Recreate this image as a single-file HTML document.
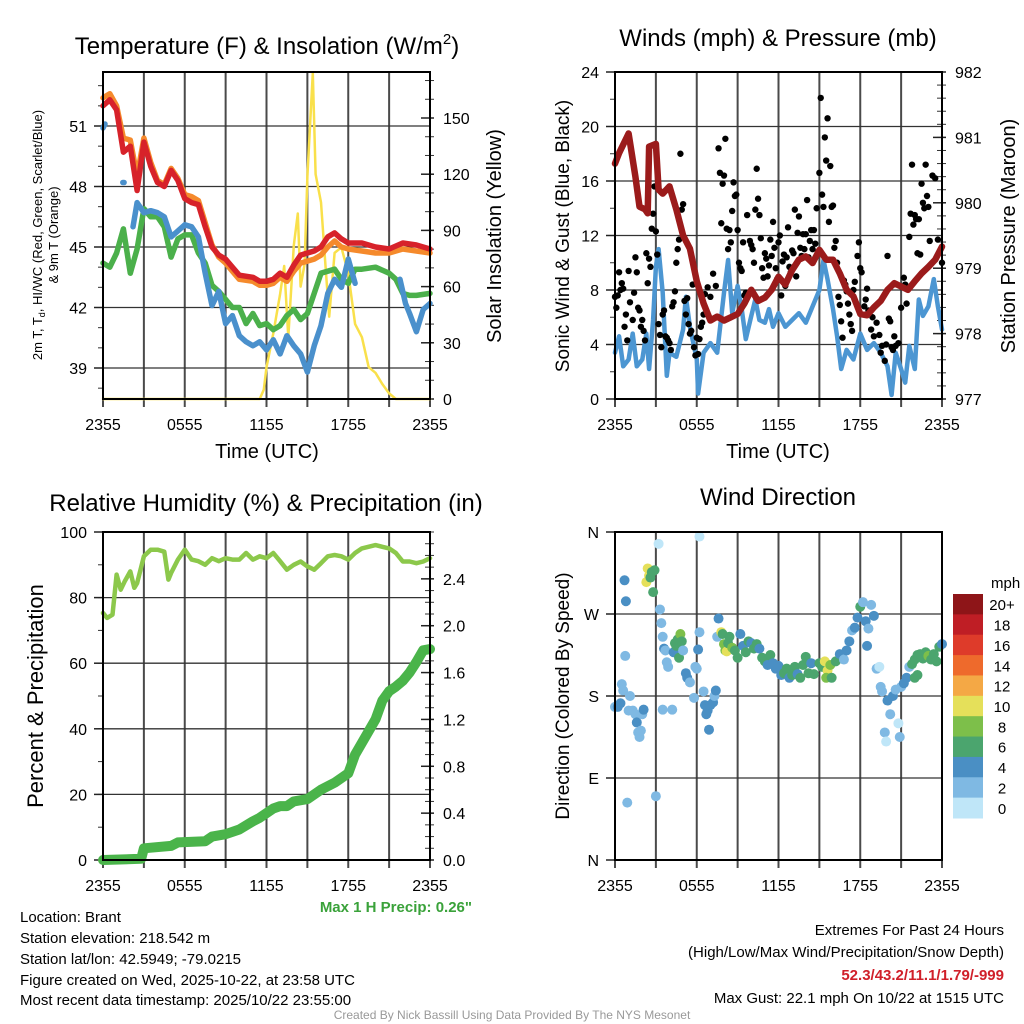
<!DOCTYPE html>
<html><head><meta charset="utf-8"><title>Mesonet Brant</title>
<style>
html,body{margin:0;padding:0;background:#fff;}
svg{display:block;font-family:"Liberation Sans",Arial,sans-serif;}
</style></head>
<body>
<svg id="fig" width="1024" height="1024" viewBox="0 0 1024 1024" xmlns="http://www.w3.org/2000/svg">
<text x="267" y="54" font-size="24" text-anchor="middle">Temperature (F) &amp; Insolation (W/m<tspan font-size="15" dy="-10">2</tspan><tspan dy="10">)</tspan></text>
<text x="778" y="46" font-size="24" text-anchor="middle">Winds (mph) &amp; Pressure (mb)</text>
<text x="266" y="511" font-size="24" text-anchor="middle">Relative Humidity (%) &amp; Precipitation (in)</text>
<text x="778" y="505" font-size="24" text-anchor="middle">Wind Direction</text>

<text transform="translate(42,235) rotate(-90)" font-size="13" text-anchor="middle">2m T, T<tspan font-size="9" dy="3">d</tspan><tspan dy="-3">, HI/WC (Red, Green, Scarlet/Blue)</tspan></text>
<text transform="translate(58,235) rotate(-90)" font-size="13" text-anchor="middle">&amp; 9m T (Orange)</text>
<text transform="translate(501,236) rotate(-90)" font-size="20" text-anchor="middle">Solar Insolation (Yellow)</text>
<text transform="translate(569,236) rotate(-90)" font-size="19" text-anchor="middle">Sonic Wind &amp; Gust (Blue, Black)</text>
<text transform="translate(1015,236) rotate(-90)" font-size="20" text-anchor="middle">Station Pressure (Maroon)</text>
<text transform="translate(43,696) rotate(-90)" font-size="22" text-anchor="middle">Percent &amp; Precipitation</text>
<text transform="translate(569,696) rotate(-90)" font-size="19" text-anchor="middle">Direction (Colored By Speed)</text>

<text x="267" y="458" font-size="20" text-anchor="middle">Time (UTC)</text>
<text x="778" y="458" font-size="20" text-anchor="middle">Time (UTC)</text>

<text x="472" y="912" font-size="15" font-weight="bold" fill="#3aa23a" text-anchor="end">Max 1 H Precip: 0.26"</text>

<g font-size="15">
<text x="20" y="922">Location: Brant</text>
<text x="20" y="943">Station elevation: 218.542 m</text>
<text x="20" y="964">Station lat/lon: 42.5949; -79.0215</text>
<text x="20" y="985">Figure created on Wed, 2025-10-22, at 23:58 UTC</text>
<text x="20" y="1005">Most recent data timestamp: 2025/10/22 23:55:00</text>
</g>
<g font-size="15" text-anchor="end">
<text x="1004" y="935">Extremes For Past 24 Hours</text>
<text x="1004" y="957">(High/Low/Max Wind/Precipitation/Snow Depth)</text>
<text x="1004" y="980" fill="#d0202a" font-weight="bold">52.3/43.2/11.1/1.79/-999</text>
<text x="1004" y="1003">Max Gust: 22.1 mph On 10/22 at 1515 UTC</text>
</g>
<text x="512" y="1019" font-size="12" fill="#999" text-anchor="middle">Created By Nick Bassill Using Data Provided By The NYS Mesonet</text>
</svg>
<script>
// ---------- data ----------
const xTickLabels = ["2355","0555","1155","1755","2355"];
const tempHours = [0,0.5,1,1.5,2,2.5,3,3.5,4,4.5,5,5.5,6,6.5,7,7.5,8,8.5,9,9.5,10,11,11.5,12,12.5,13,13.5,14,14.5,15,15.5,16,16.5,17,17.5,18,19,20,21,22,23,24];
const temp2m = [52.0,52.3,51.8,49.7,50.0,47.8,50.2,49.0,48.2,48.0,48.8,48.3,47.4,47.2,47.1,46.0,45.0,44.6,44.4,44.0,43.6,43.5,43.3,43.3,43.4,43.7,43.5,44.1,44.6,44.7,44.8,45.0,45.5,45.7,45.4,45.2,45.2,45.0,44.9,45.2,45.1,44.9];
const temp9m = [52.4,52.6,52.0,50.4,50.3,48.5,50.4,49.2,48.3,48.1,48.9,48.4,47.6,47.5,47.3,46.2,45.1,44.5,44.2,43.8,43.4,43.3,43.1,43.1,43.2,43.5,43.3,43.8,44.2,44.3,44.4,44.6,45.0,45.3,45.0,44.9,44.8,44.7,44.7,44.9,44.8,44.7];
const dewHours = [0,0.5,1,1.5,2,2.5,3,3.5,4,4.5,5,5.5,6,6.5,7,7.5,8,8.5,9,9.5,10,10.5,11,11.5,12,12.5,13,13.5,14,14.5,15,15.5,16,16.5,17,17.5,18,18.5,19,20,21,21.5,22,22.5,23,24];
const dewPoint = [44.2,44.0,44.7,45.9,43.7,44.9,46.9,46.5,46.5,46.0,44.5,45.4,45.6,45.6,44.7,44.2,43.1,42.8,42.4,42.0,42.0,41.2,41.7,41.1,41.2,40.9,41.1,41.6,41.9,41.4,41.7,42.7,43.7,43.8,43.9,43.4,43.2,43.9,43.9,44.0,43.7,43.4,42.7,42.6,42.6,42.7];
const hiwcHours = [0,0.15,null,1.45,1.55,null,2.2,2.5,3,3.5,4,4.5,5,5.5,6,6.5,7,7.5,8,8.5,9,9.5,10,10.5,11,11.5,12,12.5,13,13.5,14,14.5,15,15.5,16,16.5,17,17.5,18,18.5,null,21.8,22.2,22.5,23,23.5,24];
const hiwc = [50.9,51.1,null,48.2,48.2,null,46.0,47.2,46.7,46.8,46.7,46.5,45.5,45.8,46.1,46.0,45.5,43.7,42.1,42.8,41.2,41.6,40.6,40.3,40.1,40.3,39.9,40.4,39.7,40.6,40.1,39.7,38.8,40.1,41.1,42.7,43.4,43.0,44.4,43.2,null,43.4,42.2,41.7,40.8,41.9,42.2];
const solHours = [0,11.5,11.8,12,12.5,13,13.3,13.6,14,14.3,14.5,14.8,15,15.4,15.6,16,16.3,16.6,17,17.5,18,18.5,19,19.5,20,20.5,21,21.5,24];
const solar = [0,0,5,17,35,56,71,33,82,99,60,72,119,174,120,105,74,44,78,81,67,40,33,17,14,8,3,0,0];

const presHours = [0,0.3,1,1.5,1.8,2.2,2.4,2.5,3,3.2,3.5,4,4.5,5,5.5,6,6.5,7,7.5,8,8.5,9,9.5,10,10.5,11,11.5,12,12.5,13,13.5,14,14.5,15,15.5,16,16.5,17,17.5,18,18.5,19,19.5,20,20.5,21,21.5,22,22.5,23,23.5,24];
const pressure = [980.6,980.76,981.06,980.4,979.94,979.9,979.84,980.86,980.9,980.2,980.14,980.25,979.9,979.5,979.3,978.8,978.46,978.2,978.26,978.2,978.25,978.3,978.46,978.67,978.5,978.55,978.67,978.87,978.75,978.97,979.13,979.18,979.08,979.28,979.13,979.13,978.92,978.67,978.57,978.3,978.28,978.4,978.5,978.67,978.77,978.72,978.67,978.8,978.92,979.02,979.13,979.33];
const windHours = [0,0.3,0.6,1,1.3,1.6,2,2.3,2.5,2.8,3,3.2,3.5,3.8,4,4.5,5,5.2,5.5,6,6.1,6.5,7,7.5,8,8.3,8.6,9,9.3,9.6,10,10.3,10.6,11,11.3,11.6,12,12.5,13,13.5,14,14.5,15,15.3,15.6,16,16.3,16.6,17,17.5,18,18.5,19,19.5,20,20.3,20.6,21,21.3,21.6,22,22.3,22.6,23,23.4,23.7,24];
const windSpeed = [3.4,4.6,2.4,2.9,4.8,2.4,2.9,4.8,2.2,5.8,9.7,11.0,7.8,1.7,3.4,3.1,5.1,7.5,5.3,2.9,0.4,3.4,4.1,3.4,7.8,10.2,6.3,8.3,6.6,4.4,6.1,7.3,5.8,5.6,6.6,5.3,6.3,5.3,5.8,6.3,5.6,6.8,8.0,10.2,8.8,6.6,4.6,2.2,3.6,2.9,4.8,3.6,4.1,3.4,2.4,0.3,3.4,2.2,1.2,3.9,2.2,7.3,6.1,6.8,8.8,6.8,5.1];
const gustHours = [0,0.1,0.2,0.3,0.4,0.5,0.6,0.7,0.8,0.9,1,1.1,1.3,1.4,1.5,1.6,1.7,1.8,1.9,2,2.1,2.2,2.3,2.4,2.5,2.6,2.7,2.8,2.9,3,3.1,3.2,3.3,3.4,3.5,3.6,3.7,3.8,3.9,4,4.1,4.2,4.3,4.4,4.5,4.6,4.7,4.8,4.9,5,5.1,5.2,5.3,5.4,5.5,5.6,5.7,5.8,5.9,6,6.1,6.2,6.3,6.4,6.5,6.6,6.8,7,7.2,7.4,7.6,7.7,7.8,7.9,8,8.1,8.2,8.3,8.4,8.5,8.6,8.7,8.8,8.9,9,9.1,9.2,9.3,9.4,9.5,9.6,9.7,9.9,10,10.1,10.2,10.3,10.4,10.5,10.6,10.7,10.8,10.9,11,11.1,11.2,11.3,11.4,11.5,11.6,11.7,11.8,11.9,12,12.1,12.2,12.3,12.4,12.5,12.6,12.7,12.8,12.9,13,13.1,13.2,13.3,13.4,13.5,13.6,13.7,13.8,13.9,14,14.1,14.2,14.3,14.4,14.5,14.6,14.7,14.8,14.9,15,15.1,15.2,15.3,15.4,15.5,15.6,15.7,15.8,15.9,16,16.1,16.2,16.3,16.4,16.5,16.6,16.7,16.8,16.9,17,17.1,17.2,17.3,17.4,17.5,17.6,17.8,17.9,18,18.1,18.3,18.4,18.5,18.6,18.8,18.9,19,19.2,19.4,19.5,19.6,19.8,19.9,20,20.1,20.2,20.3,20.4,20.5,20.6,20.8,21,21.2,21.3,21.4,21.6,21.7,21.8,21.9,22,22.1,22.2,22.3,22.4,22.5,22.6,22.7,22.8,22.9,23,23.1,23.3,23.5,23.7,24];
const gustSpeed = [7.5,6.7,7.6,9.3,8.0,8.5,8.1,5.3,6.2,4.3,9.4,7.1,5.8,7.8,10.4,9.3,6.7,6.5,5.3,5.8,5.0,4.3,10.7,8.5,10.3,9.7,12.5,13.6,15.6,12.3,10.6,5.5,4.7,3.8,6.2,6.5,4.6,4.5,4.3,4.1,3.6,6.8,7.1,7.9,10.0,11.0,11.7,18.0,13.9,14.3,7.2,6.2,7.4,5.5,4.8,5.0,8.4,3.8,3.2,4.5,3.3,4.4,5.3,5.6,6.2,7.7,8.2,7.5,9.2,8.3,18.4,16.6,12.9,15.8,16.4,19.1,12.5,11.0,12.4,11.5,13.8,15.9,14.9,15.0,12.4,10.0,9.6,9.4,11.5,7.6,7.8,13.5,11.6,11.3,11.0,10.0,13.9,16.9,14.7,13.5,11.8,9.6,8.9,10.7,10.3,9.0,9.8,11.7,10.5,13.0,11.1,9.6,8.8,11.5,12.0,7.6,10.1,10.6,8.3,10.4,12.6,9.7,9.3,10.9,10.7,13.9,9.0,12.2,13.4,11.1,10.5,12.1,11.0,12.1,14.6,10.4,11.6,12.4,11.0,12.4,11.4,14.0,10.8,16.6,22.1,15.0,14.1,19.2,17.5,20.6,13.0,17.1,14.1,14.2,11.1,11.6,10.0,7.5,6.9,5.7,4.5,8.7,8.4,7.9,7.0,6.2,5.5,5.0,8.0,8.6,10.5,11.5,9.6,9.3,6.8,7.3,8.1,6.5,5.1,6.0,4.6,5.6,4.7,3.4,3.9,2.8,4.0,10.5,5.9,5.7,3.8,3.6,4.6,3.9,4.1,6.7,8.9,8.4,7.0,11.9,13.6,17.2,12.8,13.5,13.2,10.7,13.2,10.6,15.8,14.4,14.0,17.2,14.9,14.1,11.6,16.4,16.2,11.7,10.0];

const rhHours = [0,0.3,0.7,1,1.3,1.6,2,2.3,2.5,3,3.5,4,4.5,4.8,5,5.5,6,6.5,7,7.5,8,8.5,9,9.5,10,10.5,11,11.5,12,12.5,13,13.5,14,14.5,15,15.5,16,16.5,17,17.5,18,18.5,19,20,20.5,21,21.5,22,22.5,23,23.5,24];
const rh = [75.3,73.8,74.8,87,82.4,85,88,83,84.4,92.6,94.6,94.6,94,85.5,87.5,91.6,94.6,91.6,91.1,90,92,91.1,92,91.6,91.6,93.6,91.6,92.6,92,93.6,91.1,88.5,90,91,89.5,88.5,90.5,92.6,93,92.6,91.6,93.6,95,96,95.5,95,93.6,91,91,90.5,91,92];
const precipHours = [0,2.8,3,5,5.5,7.5,8,9,10,11,11.5,12,12.5,13,13.5,14,15,16,17,18,18.5,19,19.5,20,20.5,21,21.5,22,22.5,23,23.5,24];
const precip = [0,0.01,0.1,0.12,0.15,0.16,0.2,0.22,0.26,0.33,0.36,0.4,0.44,0.46,0.46,0.5,0.52,0.6,0.66,0.74,0.9,1.0,1.1,1.2,1.36,1.44,1.48,1.53,1.6,1.69,1.79,1.8];

const dirHours = [0,0.2,0.4,0.5,0.6,0.7,0.75,0.8,0.9,1.0,1.1,1.3,1.5,1.6,1.7,1.8,1.9,2.0,2.1,2.3,2.4,2.5,2.6,2.7,2.8,2.9,3.2,3.0,3.3,3.4,3.5,3.6,3.7,3.8,3.9,3.5,4.2,4.3,4.4,4.5,4.6,4.8,4.9,4.7,5.0,5.2,5.3,5.5,5.8,5.9,6.0,6.1,6.2,6.2,6.5,6.6,6.7,6.8,6.9,7.0,7.2,7.3,7.4,7.5,7.6,7.8,7.9,8.0,8.1,8.2,8.3,8.4,8.6,8.8,9.0,9.2,9.4,9.6,9.8,10.0,10.2,10.4,10.6,10.8,11.0,11.2,11.4,11.6,11.8,12.0,12.2,12.4,12.6,12.8,13.0,13.2,13.4,13.6,13.8,14.0,14.2,14.4,14.6,15.0,15.2,15.4,15.6,15.8,15.5,15.9,16.2,16.5,16.8,17.0,17.2,17.4,17.6,17.8,18.0,18.2,18.4,18.6,18.8,19.0,18.5,19.2,19.4,19.5,19.6,19.8,19.9,20.0,20.2,20.4,20.6,20.8,20.9,21.0,21.2,21.4,21.6,21.8,22.0,22.2,22.4,22.6,22.8,23.0,23.2,23.4,23.6,23.8,24.0,22.0,22.2];
const dirDeg = [168,168,172,193,186,307,224,284,63,164,180,164,160,151,140,135,142,160,165,305,320,312,310,316,294,318,347,70,275,260,245,232,230,217,212,165,165,228,238,235,242,248,240,222,230,205,200,195,178,212,210,231,250,355,185,170,160,164,143,170,173,180,186,245,265,250,248,237,230,229,238,245,233,230,222,248,235,228,240,238,232,237,232,222,218,214,225,216,210,213,203,205,210,200,203,212,204,200,214,223,205,216,204,216,212,218,208,214,200,200,218,226,220,230,240,252,255,266,278,283,262,254,280,268,235,210,212,190,185,140,130,175,160,180,187,150,135,190,194,200,212,215,220,225,226,221,228,224,220,226,218,234,237,200,203];
const dirSpeed = [3,4,4,2,2,4,2,4,2,2,2,2,3,4,2,2,2,3,4,10,10,10,6,6,6,7,0,2,2,2,2,4,2,2,2,2,2,4,6,6,6,8,6,6,2,4,4,2,2,2,2,4,2,0,2,4,4,4,4,4,4,3,4,2,4,10,6,8,8,10,6,6,8,6,6,4,4,6,6,4,6,6,4,6,6,4,6,4,4,4,4,6,6,4,6,6,4,6,6,6,6,4,6,6,6,10,10,8,8,6,6,4,2,4,4,2,4,4,6,2,4,2,2,4,4,2,0,2,2,2,0,4,2,4,2,1,2,2,4,4,2,6,6,6,6,6,6,8,6,6,6,6,4,6,6];
const cbarLabels = ["20+","18","16","14","12","10","8","6","4","2","0"];
const cbarColors = ["#8e1518","#bf1e25","#de3b2a","#ee6a2c","#f4a845","#e5e05a","#7dbf4a","#4ba56e","#4a8fc4","#7fb9e3","#bfe6f8"];

// ---------- helpers ----------
const NS="http://www.w3.org/2000/svg";
const svg=document.getElementById("fig");
function mk(tag,attrs,parent){const e=document.createElementNS(NS,tag);for(const k in attrs)e.setAttribute(k,attrs[k]);(parent||svg).appendChild(e);return e;}
function lin(d0,d1,r0,r1){return v=>r0+(v-d0)/(d1-d0)*(r1-r0);}

function panel(name,L,R,T,B,leftTicks,leftLab,leftMinor,rightTicks,rightLab,rightMinor,yl,yr,drawHGrid){
  const g=mk("g",{});
  
  
  const x=lin(0,24,L,R);
  for(let h=3;h<24;h+=3){
    const l=mk("line",{x1:x(h),x2:x(h),y1:T,y2:B,stroke:"#4a4a4a","stroke-width":2},g);
    
    
  }
  drawHGrid.forEach(v=>{
    const l=mk("line",{x1:L,x2:R,y1:v,y2:v,stroke:"#333","stroke-width":1.3},g);
    
    
  });
  for(let h=0;h<=24;h+=3){
    const t=mk("line",{x1:x(h),x2:x(h),y1:B,y2:B+8,stroke:"#4a4a4a","stroke-width":2},g);
    
    
  }
  xTickLabels.forEach((s,i)=>{
    const t=mk("text",{x:x(i*6),y:B+31,"font-size":16,"text-anchor":"middle"},g);
    t.textContent=s;
    
    
  });
  leftMinor.forEach(v=>{const t=mk("line",{x1:L-5,x2:L,y1:yl(v),y2:yl(v),stroke:"#333","stroke-width":1},g);
    
    });
  leftTicks.forEach((v,i)=>{
    const t=mk("line",{x1:L-9,x2:L,y1:yl(v),y2:yl(v),stroke:"#222","stroke-width":1.5},g);
    
    
    const s=mk("text",{x:L-16,y:yl(v)+6,"font-size":16,"text-anchor":"end"},g);
    s.textContent=leftLab[i];
    
    
  });
  if(yr){
    rightMinor.forEach(v=>{const t=mk("line",{x1:R-5,x2:R+4,y1:yr(v),y2:yr(v),stroke:"#333","stroke-width":1},g);
      
      });
    rightTicks.forEach((v,i)=>{
      const t=mk("line",{x1:R-9,x2:R+4,y1:yr(v),y2:yr(v),stroke:"#222","stroke-width":1.5},g);
      
      
      const s=mk("text",{x:R+13,y:yr(v)+6,"font-size":16},g);
      s.textContent=rightLab[i];
      
      
    });
  }
  return {g,x};
}
function frame(g,L,R,T,B){
  const r=mk("rect",{x:L,y:T,width:R-L,height:B-T,fill:"none",stroke:"#000","stroke-width":2},g);
  
  
}
function polyline(g,xs,ys,x,y,color,w,name){
  let d="",pen=false;
  for(let i=0;i<xs.length;i++){
    if(xs[i]===null||ys[i]===null){pen=false;continue;}
    d+=(pen?"L":"M")+x(xs[i]).toFixed(1)+","+y(ys[i]).toFixed(1);pen=true;
  }
  const p=mk("path",{d:d,fill:"none",stroke:color,"stroke-width":w,"stroke-linejoin":"round","stroke-linecap":"round"},g);
  
  
}
function range(a,b,s){const r=[];for(let v=a;v<=b+1e-9;v+=s)r.push(+v.toFixed(4));return r;}

// ---------- Panel 1: temperature ----------
(function(){
  const L=103,R=430,T=72,B=399;
  const yl=lin(39,51,368,126), yr=lin(0,150,399,118);
  const lt=[39,42,45,48,51];
  const p=panel("temperature-panel",L,R,T,B,lt,lt.map(String),range(38,53,1),[0,30,60,90,120,150],["0","30","60","90","120","150"],range(0,175,10),yl,yr,lt.map(yl));
  polyline(p.g,solHours,solar,p.x,yr,"#f9e04b",2.5,"solar-insolation-line");
  polyline(p.g,dewHours,dewPoint,p.x,yl,"#4bb04b",5.5,"dewpoint-line");
  polyline(p.g,hiwcHours,hiwc,p.x,yl,"#4a90cc",5.5,"heat-index-windchill-line");
  polyline(p.g,tempHours,temp9m,p.x,yl,"#f58a2c",5.5,"temp-9m-line");
  polyline(p.g,tempHours,temp2m,p.x,yl,"#d7222a",5.5,"temp-2m-line");
  frame(p.g,L,R,T,B);
})();

// ---------- Panel 2: wind & pressure ----------
(function(){
  const L=615,R=942,T=72,B=399;
  const yl=lin(0,24,399,72), yr=lin(977,982,399,72);
  const lt=[0,4,8,12,16,20,24];
  const p=panel("wind-pressure-panel",L,R,T,B,lt,lt.map(String),range(0,24,2),[977,978,979,980,981,982],["977","978","979","980","981","982"],range(977,982,0.2),yl,yr,lt.map(yl));
  polyline(p.g,windHours,windSpeed,p.x,yl,"#4c96d2",4.5,"sonic-wind-line");
  gustHours.forEach((h,i)=>{
    const c=mk("circle",{cx:p.x(h),cy:yl(gustSpeed[i]),r:3.2,fill:"#000"},p.g);
    
    
  });
  polyline(p.g,presHours,pressure,p.x,yr,"#9b1b1b",6.5,"station-pressure-line");
  frame(p.g,L,R,T,B);
})();

// ---------- Panel 3: RH & precip ----------
(function(){
  const L=103,R=430,T=532,B=860;
  const yl=lin(0,100,860,532), yr=lin(0,2.8,860,532);
  const lt=[0,20,40,60,80,100];
  const p=panel("rh-precip-panel",L,R,T,B,lt,lt.map(String),range(0,100,10),[0,0.4,0.8,1.2,1.6,2.0,2.4],["0.0","0.4","0.8","1.2","1.6","2.0","2.4"],range(0,2.8,0.1),yl,yr,lt.map(yl));
  polyline(p.g,rhHours,rh,p.x,yl,"#8cc84b",4.5,"relative-humidity-line");
  polyline(p.g,precipHours,precip,p.x,yr,"#4ab44a",10,"precipitation-line");
  frame(p.g,L,R,T,B);
})();

// ---------- Panel 4: wind direction ----------
(function(){
  const L=615,R=942,T=532,B=860;
  const yl=lin(0,360,860,532);
  const lt=[0,90,180,270,360];
  const p=panel("wind-direction-panel",L,R,T,B,lt,["N","E","S","W","N"],[],[],[],[],yl,null,lt.map(yl));
  dirHours.forEach((h,i)=>{
    const idx=Math.min(10,Math.floor(dirSpeed[i]/2));
    const c=mk("circle",{cx:p.x(h),cy:yl(dirDeg[i]),r:5,fill:cbarColors[10-idx]},p.g);
    
    
  });
  frame(p.g,L,R,T,B);
  const cb=mk("g",{});
  
  
  const t=mk("text",{x:991,y:588,"font-size":15},cb);
  t.textContent="mph";
  
  
  const bh=(818-594)/cbarColors.length;
  cbarColors.forEach((c,i)=>{
    const r=mk("rect",{x:953,y:594+i*bh,width:30,height:bh+0.5,fill:c},cb);
    
    
    const s=mk("text",{x:1002,y:594+i*bh+bh/2+6,"font-size":15,"text-anchor":"middle"},cb);
    s.textContent=cbarLabels[i];
    
    
  });
})();
</script>
</body></html>
